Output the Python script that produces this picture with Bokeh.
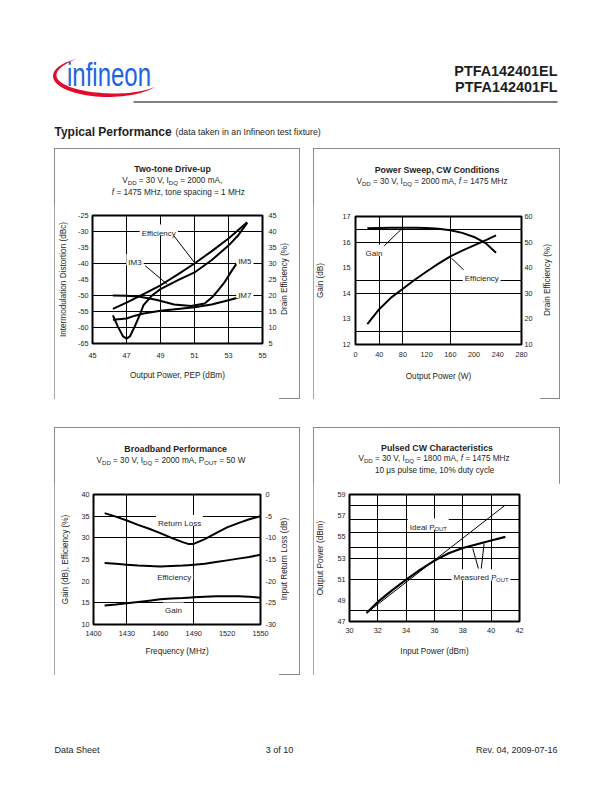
import math
from bokeh.plotting import figure
from bokeh.models import Range1d, LinearAxis, FixedTicker, Label, Spacer, Div
from bokeh.layouts import column, row
from bokeh.embed import file_html
from bokeh.resources import INLINE

FONT = "Liberation Sans"
INK = "#1e1e1e"
BOXC = "#8a8a8a"

# ---------------- data: Two-tone Drive-up ----------------
tt_x_ticks = [45, 47, 49, 51, 53, 55]
tt_imd_ticks = [-65, -60, -55, -50, -45, -40, -35, -30, -25]
tt_eff_ticks = [5, 10, 15, 20, 25, 30, 35, 40, 45]
tt_xgrid = [47, 49, 51, 53]
tt_ygrid = [-30, -40, -50, -55, -60]
tt_eff_pout = [46.2, 47.0, 48.0, 49.0, 50.0, 51.0, 52.0, 53.0, 54.1]
tt_eff = [15.8, 17.8, 20.4, 23.2, 26.5, 30.0, 33.8, 37.8, 42.9]
tt_im3_pout = [46.2, 46.5, 46.8, 47.0, 47.2, 47.5, 47.8, 48.0, 48.5, 49.0, 50.0, 51.0, 52.0, 53.0, 53.6, 54.1]
tt_im3 = [-56.2, -59.8, -62.8, -63.5, -62.8, -59.5, -55.8, -53.0, -50.0, -48.0, -45.3, -42.8, -39.0, -34.4, -31.0, -27.3]
tt_im5_pout = [46.2, 47.0, 47.8, 48.8, 49.8, 50.8, 51.6, 52.05, 52.4, 52.75, 53.1, 53.5]
tt_im5 = [-50.0, -50.1, -50.4, -51.4, -52.8, -53.3, -52.5, -50.5, -48.3, -46.0, -43.0, -39.8]
tt_im7_pout = [46.2, 47.0, 47.5, 48.0, 49.0, 50.0, 51.0, 52.0, 53.0, 53.8]
tt_im7 = [-57.6, -57.2, -56.3, -55.6, -54.8, -54.2, -53.7, -52.8, -51.5, -50.3]

# ---------------- data: Power Sweep ----------------
ps_x_ticks = [0, 40, 80, 120, 160, 200, 240, 280]
ps_gain_ticks = [12, 13, 14, 15, 16, 17]
ps_eff_ticks = [10, 20, 30, 40, 50, 60]
ps_xgrid = [40, 80, 160]
ps_ygrid = [16.5, 16, 14.5, 14, 12.5]
ps_pout = [20, 40, 60, 80, 100, 120, 140, 160, 180, 200, 220, 237]
ps_gain = [16.54, 16.55, 16.56, 16.56, 16.56, 16.55, 16.52, 16.46, 16.36, 16.20, 15.95, 15.58]
ps_eff = [18.0, 23.8, 28.3, 31.8, 35.3, 38.5, 41.6, 44.4, 46.7, 48.7, 50.8, 52.6]

# ---------------- data: Broadband ----------------
bb_x_ticks = [1400, 1430, 1460, 1490, 1520, 1550]
bb_left_ticks = [10, 15, 20, 25, 30, 35, 40]
bb_rl_ticks = [-30, -25, -20, -15, -10, -5, 0]
bb_xgrid = [1430, 1490]
bb_ygrid = [35, 30, 15]
bb_freq = [1410, 1420, 1430, 1440, 1450, 1460, 1470, 1480, 1485, 1490, 1500, 1510, 1520, 1530, 1540, 1550]
bb_rl = [-4.3, -5.1, -6.0, -7.0, -7.9, -8.9, -10.0, -11.0, -11.4, -11.4, -10.3, -8.9, -7.6, -6.6, -5.7, -5.0]
bb_eff = [24.2, 24.0, 23.8, 23.6, 23.5, 23.4, 23.5, 23.6, 23.7, 23.8, 24.0, 24.4, 24.8, 25.2, 25.6, 26.1]
bb_gain = [14.4, 14.6, 14.9, 15.2, 15.5, 15.8, 16.0, 16.1, 16.2, 16.3, 16.4, 16.5, 16.5, 16.5, 16.4, 16.2]

# ---------------- data: Pulsed CW ----------------
pc_x_ticks = [30, 32, 34, 36, 38, 40, 42]
pc_y_ticks = [47, 49, 51, 53, 55, 57, 59]
pc_xgrid = [32, 34, 36, 38, 40]
pc_ygrid = [58, 56.6, 55.4, 54, 53, 51, 48]
pc_pin = [31.2, 32, 33, 34, 35, 36, 37, 38, 39, 40, 41]
pc_meas = [47.8, 48.85, 49.95, 50.95, 51.9, 52.75, 53.45, 53.95, 54.3, 54.65, 55.0]
pc_ideal_pin = [31.2, 41.0]
pc_ideal = [47.8, 58.0]

# Arial / Liberation Sans advance widths (1/1000 em)
AW = {' ': 278, '%': 889, '(': 333, ')': 333, ',': 278, '-': 333, '.': 278, '=': 584,
      'A': 667, 'B': 667, 'C': 722, 'D': 722, 'E': 667, 'F': 611, 'G': 778, 'H': 722, 'I': 278,
      'L': 556, 'M': 833, 'O': 778, 'P': 667, 'Q': 778, 'R': 722, 'S': 667, 'T': 611, 'U': 722,
      'V': 667, 'W': 944, 'a': 556, 'b': 556, 'c': 500, 'd': 556, 'e': 556, 'f': 278, 'g': 556,
      'h': 556, 'i': 222, 'k': 500, 'l': 222, 'm': 833, 'n': 556, 'o': 556, 'p': 556, 'r': 333,
      's': 500, 't': 278, 'u': 556, 'v': 500, 'w': 722, 'x': 500, 'y': 500, 'z': 500, 'μ': 576}

TITLE = 8.8
SUBT = 8.2
AXT = 8.2
ANN = 8.0
SUBF = 0.74


def tw(s, size):
    return sum(AW.get(c, 556) for c in s) * size / 1000.0


def txt(p, x, y, text, size, bold=False, italic=False, align="center", baseline="middle",
        angle=0.0, color=INK, xr="default", yr="default", font=FONT):
    style = "bold" if bold else ("italic" if italic else "normal")
    p.add_layout(Label(x=x, y=y, x_range_name=xr, y_range_name=yr, text=text, text_font=font,
                       text_font_size=f"{size:.2f}px", text_font_style=style, text_align=align,
                       text_baseline=baseline, angle=angle, text_color=color))


def rich(p, parts, cx, cy, size, box=False, xr="default", yr="default"):
    sub = size * SUBF
    ws = [tw(t, sub if s == "sub" else size) for t, s in parts]
    total = sum(ws)
    x = cx - total / 2.0
    if box:
        p.quad(left=[x - 2], right=[x + total + 2], top=[cy - size * 0.7], bottom=[cy + size * 0.7],
               x_range_name=xr, y_range_name=yr, fill_color="white", line_color=None)
    base = cy + 0.36 * size
    for (t, s), w in zip(parts, ws):
        sz = sub if s == "sub" else size
        lead = len(t) - len(t.lstrip(" "))
        core = t.strip(" ")
        if core:
            txt(p, x + tw(" " * lead, sz), base + (1.7 if s == "sub" else 0.0), core, sz,
                italic=(s == "it"), align="left", baseline="alphabetic", xr=xr, yr=yr)
        x += w


def blank(w, h, x0, y0):
    f = figure(width=w, height=h, x_range=Range1d(x0, x0 + w), y_range=Range1d(y0 + h, y0),
               x_axis_type=None, y_axis_type=None, output_backend="svg", toolbar_location=None,
               min_border=0, outline_line_color=None)
    f.xgrid.visible = False
    f.ygrid.visible = False
    return f


# ---------- HTML helpers for text outside the plot frames ----------
def sub(s):
    return f'<span style="font-size:{int(SUBF * 100)}%;position:relative;top:0.3em">{s}</span>'


def hline(cx, cy, html, size, bold=False, rotate=False):
    tr = "translate(-50%,-50%)" + (" rotate(-90deg)" if rotate else "")
    return (f'<div style="position:absolute;left:{cx:.1f}px;top:{cy:.1f}px;transform:{tr};'
            f'white-space:nowrap;font-family:\'{FONT}\',Arial,sans-serif;font-size:{size}px;'
            f'line-height:{size * 1.2:.1f}px;font-weight:{"bold" if bold else "normal"};color:{INK}">{html}</div>')


def text_div(w, h, ox, oy, lines):
    body = "".join(hline(cx - ox, cy - oy, html, size, bold, rot) for cx, cy, html, size, bold, rot in lines)
    return Div(text=f'<div style="position:relative;width:{w}px;height:{h}px;">{body}</div>',
               width=w, height=h, margin=0)


class Chart:
    def __init__(self, ox, oy, w, h, frame, xr, yr):
        fx0, fx1, fy0, fy1 = frame
        self.frame, self.xr, self.yr = frame, xr, yr
        p = figure(width=w, height=h, x_range=Range1d(*xr), y_range=Range1d(*yr),
                   output_backend="svg", toolbar_location=None,
                   min_border_left=fx0 - ox, min_border_right=ox + w - fx1,
                   min_border_top=fy0 - oy, min_border_bottom=oy + h - fy1)
        p.extra_x_ranges = {"px": Range1d(fx0, fx1)}
        p.extra_y_ranges = {"py": Range1d(fy1, fy0)}
        p.outline_line_color = "black"
        p.outline_line_width = 2
        p.background_fill_color = "white"
        p.border_fill_color = "white"
        p.grid.grid_line_color = "black"
        p.grid.grid_line_width = 1
        self.p = p

    def px(self, x, y):
        fx0, fx1, fy0, fy1 = self.frame
        X = fx0 + (x - self.xr[0]) / (self.xr[1] - self.xr[0]) * (fx1 - fx0)
        Y = fy1 - (y - self.yr[0]) / (self.yr[1] - self.yr[0]) * (fy1 - fy0)
        return X, Y

    def note(self, parts, x, y):
        X, Y = self.px(x, y)
        rich(self.p, parts, X, Y, ANN, box=True, xr="px", yr="py")


def style_axis(ax, ticks, standoff, label="", label_standoff=5):
    ax.ticker = FixedTicker(ticks=ticks)
    ax.major_label_overrides = {t: str(t) for t in ticks}
    ax.axis_line_color = None
    ax.major_tick_line_color = None
    ax.minor_tick_line_color = None
    ax.major_tick_out = 0
    ax.major_tick_in = 0
    ax.major_label_standoff = standoff
    ax.major_label_text_font = FONT
    ax.major_label_text_font_size = "7.3px"
    ax.major_label_text_color = INK
    ax.axis_label = label
    ax.axis_label_standoff = label_standoff
    ax.axis_label_text_font = FONT
    ax.axis_label_text_font_size = f"{AXT}px"
    ax.axis_label_text_font_style = "normal"
    ax.axis_label_text_color = INK


def panel(title_div, chart, right_div=None):
    body = row(chart.p, right_div) if right_div is not None else chart.p
    return column(title_div, body, styles={"outline": f"1px solid {BOXC}", "outline-offset": "-1px"})


VDD = "V" + sub("DD") + " = 30 V, I" + sub("DQ")

# ================= Chart 1: Two-tone Drive-up =================
t1 = text_div(246, 56, 54, 148, [
    (172.5, 169, "Two-tone Drive-up", TITLE, True, False),
    (172.3, 181, VDD + " = 2000 mA,", SUBT, False, False),
    (178.3, 192.7, "<i>f</i> = 1475 MHz, tone spacing = 1 MHz", SUBT, False, False),
])
c1 = Chart(54, 204, 225, 195, (92, 262, 215, 343), (45, 55), (-65, -25))
p1 = c1.p
p1.extra_y_ranges["eff"] = Range1d(5, 45)
style_axis(p1.xaxis[0], tt_x_ticks, 9, "Output Power, PEP (dBm)", 10)
style_axis(p1.yaxis[0], tt_imd_ticks, 4, "Intermodulation Distortion (dBc)", 7)
ax1r = LinearAxis(y_range_name="eff")
style_axis(ax1r, tt_eff_ticks, 6)
p1.add_layout(ax1r, "right")
p1.xgrid.ticker = FixedTicker(ticks=tt_xgrid)
p1.ygrid.ticker = FixedTicker(ticks=tt_ygrid)
p1.line(tt_eff_pout, tt_eff, y_range_name="eff", line_color="black", line_width=2)
p1.line(tt_im3_pout, tt_im3, line_color="black", line_width=2)
p1.line(tt_im5_pout, tt_im5, line_color="black", line_width=2)
p1.line(tt_im7_pout, tt_im7, line_color="black", line_width=2)
p1.line([49.78, 51.0], [-31.3, -39.7], line_color="black", line_width=1)
p1.line([48.1, 49.4], [-40.7, -46.5], line_color="black", line_width=1)
c1.note([("Efficiency", "n")], 48.9, -29.6)
c1.note([("IM3", "n")], 47.5, -38.8)
c1.note([("IM5", "n")], 53.96, -38.6)
c1.note([("IM7", "n")], 53.96, -49.1)
r1 = text_div(21, 195, 279, 204, [(285, 279, "Drain Efficiency (%)", AXT, False, True)])

# ================= Chart 2: Power Sweep =================
t2 = text_div(247, 56, 313, 148, [
    (437, 170, "Power Sweep, CW Conditions", TITLE, True, False),
    (432, 181.7, VDD + " = 2000 mA, <i>f</i> = 1475 MHz", SUBT, False, False),
])
c2 = Chart(313, 204, 227, 195, (353, 521, 216, 344), (0, 280), (12, 17))
p2 = c2.p
p2.extra_y_ranges["eff"] = Range1d(10, 60)
style_axis(p2.xaxis[0], ps_x_ticks, 7, "Output Power (W)", 12)
style_axis(p2.yaxis[0], ps_gain_ticks, 5, "Gain (dB)", 14)
ax2r = LinearAxis(y_range_name="eff")
style_axis(ax2r, ps_eff_ticks, 3)
p2.add_layout(ax2r, "right")
p2.xgrid.ticker = FixedTicker(ticks=ps_xgrid)
p2.ygrid.ticker = FixedTicker(ticks=ps_ygrid)
p2.line(ps_pout, ps_gain, line_color="black", line_width=2)
p2.line(ps_pout, ps_eff, y_range_name="eff", line_color="black", line_width=2)
p2.line([46, 78], [15.8, 16.52], line_color="black", line_width=1)
p2.line([189.4, 162], [14.76, 15.37], line_color="black", line_width=1)
c2.note([("Gain", "n")], 31, 15.68)
c2.note([("Efficiency", "n")], 212.8, 14.7)
r2 = text_div(20, 195, 540, 204, [(548.3, 280, "Drain Efficiency (%)", AXT, False, True)])

# ================= Chart 3: Broadband =================
t3 = text_div(246, 56, 54, 427, [
    (175.7, 449, "Broadband Performance", TITLE, True, False),
    (171, 460.7, VDD + " = 2000 mA, P" + sub("OUT") + " = 50 W", SUBT, False, False),
])
c3 = Chart(54, 483, 225, 192, (93, 261, 494, 624), (1400, 1550), (10, 40))
p3 = c3.p
p3.extra_y_ranges["rl"] = Range1d(-30, 0)
style_axis(p3.xaxis[0], bb_x_ticks, 6, "Frequency (MHz)", 8)
style_axis(p3.yaxis[0], bb_left_ticks, 4, "Gain (dB), Efficiency (%)", 8)
ax3r = LinearAxis(y_range_name="rl")
style_axis(ax3r, bb_rl_ticks, 5)
p3.add_layout(ax3r, "right")
p3.xgrid.ticker = FixedTicker(ticks=bb_xgrid)
p3.ygrid.ticker = FixedTicker(ticks=bb_ygrid)
p3.line(bb_freq, bb_rl, y_range_name="rl", line_color="black", line_width=2)
p3.line(bb_freq, bb_eff, line_color="black", line_width=2)
p3.line(bb_freq, bb_gain, line_color="black", line_width=2)
c3.note([("Return Loss", "n")], 1477.2, 34)
c3.note([("Efficiency", "n")], 1472.5, 21.5)
c3.note([("Gain", "n")], 1471.8, 13.8)
r3 = text_div(21, 192, 279, 483, [(285, 559, "Input Return Loss (dB)", AXT, False, True)])

# ================= Chart 4: Pulsed CW =================
t4 = text_div(247, 56, 313, 427, [
    (437, 447.7, "Pulsed CW Characteristics", TITLE, True, False),
    (434, 459, VDD + " = 1800 mA, <i>f</i> = 1475 MHz", SUBT, False, False),
    (434.7, 471, "10 μs pulse time, 10% duty cycle", SUBT, False, False),
])
c4 = Chart(313, 483, 247, 192, (347, 519, 494, 621), (30, 42), (47, 59))
p4 = c4.p
style_axis(p4.xaxis[0], pc_x_ticks, 6, "Input Power (dBm)", 11)
style_axis(p4.yaxis[0], pc_y_ticks, 4, "Output Power (dBm)", 9)
p4.xgrid.ticker = FixedTicker(ticks=pc_xgrid)
p4.ygrid.ticker = FixedTicker(ticks=pc_ygrid)
p4.line(pc_ideal_pin, pc_ideal, line_color="black", line_width=1)
p4.line(pc_pin, pc_meas, line_color="black", line_width=2.2)
p4.line([39.1, 38.7], [52.0, 53.9], line_color="black", line_width=1)
p4.line([39.3, 39.5], [52.0, 54.35], line_color="black", line_width=1)
c4.note([("Ideal P", "n"), ("OUT", "sub")], 35.56, 56.2)
c4.note([("Measured P", "n"), ("OUT", "sub")], 39.28, 51.4)

# ================= header =================
LOGO_W, TOP_H = 200, 99
sw_deg = list(range(125, 330, 4))
sw_t = [math.radians(a) for a in sw_deg]
cxl, cyl, ea, eb = 108.0, 76.0, 55.0, 21.0
tt0, tt1 = sw_t[0], sw_t[-1]
wd = [4.4 * math.sin(math.pi * (t - tt0) / (tt1 - tt0)) ** 0.8 for t in sw_t]
outer = [(cxl + ea * math.cos(t), cyl - eb * math.sin(t)) for t in sw_t]
inner = [(cxl + (ea - w) * math.cos(t), cyl - (eb - w) * math.sin(t)) for t, w in zip(sw_t, wd)]
pts = outer + inner[::-1]
path_d = "M " + " L ".join(f"{x:.2f},{y:.2f}" for x, y in pts) + " Z"
logo_svg = (
    f'<svg width="{LOGO_W}" height="{TOP_H}" xmlns="http://www.w3.org/2000/svg" style="position:absolute;left:0;top:0">'
    f'<path d="{path_d}" fill="#e30a2b"/>'
    f'<text x="67" y="86" font-family="{FONT}" font-size="33" fill="#1d62e8" textLength="84" '
    f'lengthAdjust="spacingAndGlyphs">infineon</text>'
    f'</svg>'
)
logo = Div(text=f'<div style="position:relative;width:{LOGO_W}px;height:{TOP_H}px;">{logo_svg}</div>',
           width=LOGO_W, height=TOP_H, margin=0)

hd_top = blank(612 - LOGO_W, TOP_H, LOGO_W, 0)
txt(hd_top, 557, 70.5, "PTFA142401EL", 14.4, bold=True, align="right")
txt(hd_top, 557, 86.5, "PTFA142401FL", 14.4, bold=True, align="right")

hd_bot = blank(612, 148 - TOP_H, 0, TOP_H)
hd_bot.line([133, 557], [101.5, 101.5], line_color="black", line_width=1)
txt(hd_bot, 54, 131, "Typical Performance", 12, bold=True, align="left")
txt(hd_bot, 175, 131.5, "(data taken in an Infineon test fixture)", 8.8, align="left")

# ================= footer =================
ft = blank(612, 117, 0, 675)
txt(ft, 54, 749, "Data Sheet", 9, align="left")
txt(ft, 279, 749, "3 of 10", 9)
txt(ft, 557, 749, "Rev. 04, 2009-07-16", 9, align="right")

page = column(
    row(logo, hd_top),
    hd_bot,
    row(Spacer(width=54, height=251), panel(t1, c1, r1), Spacer(width=13, height=251), panel(t2, c2, r2)),
    Spacer(width=612, height=28),
    row(Spacer(width=54, height=248), panel(t3, c3, r3), Spacer(width=13, height=248), panel(t4, c4)),
    ft,
)

open("out.html", "w").write(file_html(page, INLINE))
